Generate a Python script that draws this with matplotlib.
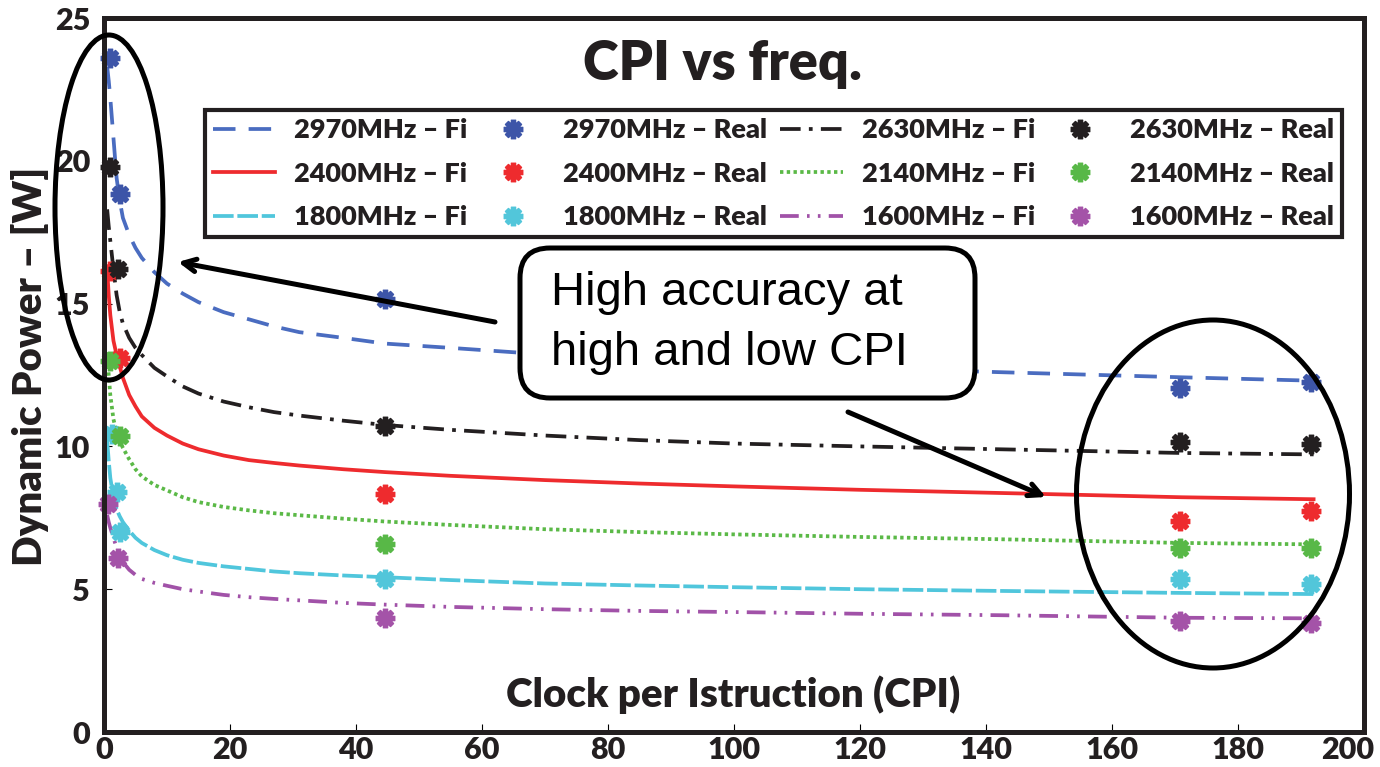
import matplotlib.pyplot as plt
from matplotlib.patches import Ellipse, FancyBboxPatch
from matplotlib.transforms import ScaledTranslation

plt.rcParams['font.family'] = ['Lato', 'DejaVu Sans']
plt.rcParams['font.weight'] = 'bold'

# fitted curves
fit_x = [0.5, 0.75, 1, 1.5, 2, 2.5, 3, 4, 5, 6, 8, 10, 12.5, 15, 19, 23, 27, 31, 38, 44.6,
         55, 70, 85, 100, 120, 142, 171, 192]
fit_2970 = [23.3, 22.8, 22.2, 20.8, 19.4, 18.6, 18.0, 17.4, 16.95, 16.6, 16.1, 15.7, 15.35, 15.05,
            14.7, 14.45, 14.2, 14.0, 13.8, 13.6, 13.45, 13.22, 13.05, 12.9, 12.75, 12.6, 12.42, 12.3]
fit_2630 = [18.3, 17.7, 17.2, 16.2, 15.3, 14.7, 14.3, 13.8, 13.45, 13.2, 12.75, 12.45, 12.1, 11.85,
            11.57, 11.37, 11.2, 11.08, 10.9, 10.75, 10.58, 10.38, 10.22, 10.1, 10.0, 9.9, 9.77, 9.72]
fit_2400 = [16.2, 15.3, 14.6, 13.7, 13.2, 12.8, 12.4, 11.8, 11.4, 11.05, 10.65, 10.38, 10.1, 9.9,
            9.68, 9.52, 9.42, 9.33, 9.2, 9.1, 8.97, 8.82, 8.7, 8.6, 8.48, 8.37, 8.22, 8.15]
fit_2140 = [13.3, 12.5, 11.8, 10.95, 10.5, 10.2, 9.95, 9.55, 9.2, 8.95, 8.65, 8.46, 8.22, 8.05,
            7.88, 7.76, 7.66, 7.59, 7.47, 7.37, 7.25, 7.1, 7.0, 6.92, 6.83, 6.75, 6.62, 6.57]
fit_1800 = [10.2, 9.5, 8.9, 8.2, 7.8, 7.55, 7.35, 7.05, 6.8, 6.62, 6.37, 6.19, 6.03, 5.92,
            5.8, 5.71, 5.62, 5.56, 5.48, 5.42, 5.32, 5.2, 5.13, 5.07, 5.0, 4.94, 4.87, 4.83]
fit_1600 = [7.6, 7.35, 7.15, 6.8, 6.45, 6.15, 5.95, 5.68, 5.5, 5.36, 5.22, 5.12, 5.0, 4.92,
            4.8, 4.72, 4.66, 4.61, 4.52, 4.46, 4.38, 4.3, 4.24, 4.2, 4.14, 4.09, 4.0, 3.98]

# measured points
real_x_2970 = [1.0, 2.5, 44.6, 170.8, 191.6]
real_2970 = [23.6, 18.85, 15.15, 12.05, 12.25]
real_x_2630 = [0.9, 2.3, 44.6, 170.8, 191.6]
real_2630 = [19.8, 16.2, 10.73, 10.17, 10.1]
real_x_2400 = [0.9, 2.5, 44.6, 170.8, 191.6]
real_2400 = [16.15, 13.1, 8.32, 7.38, 7.73]
real_x_2140 = [0.9, 2.5, 44.6, 170.8, 191.6]
real_2140 = [13.0, 10.35, 6.6, 6.43, 6.43]
real_x_1800 = [1.2, 2.0, 2.5, 44.6, 170.8, 191.6]
real_1800 = [10.45, 8.4, 7.0, 5.35, 5.35, 5.17]
real_x_1600 = [0.7, 2.2, 44.6, 170.8, 191.6]
real_1600 = [8.0, 6.1, 3.99, 3.88, 3.81]

fig = plt.figure(figsize=(13.8, 7.67), dpi=100)
ax = fig.add_axes([104/1380, 1-732/767, 1260/1380, 714/767])

lw = 2.7
l2970, = ax.plot(fit_x, fit_2970, color='#4a6cc0', lw=lw, dashes=(6, 3.5), label='2970MHz – Fi')
l2400, = ax.plot(fit_x, fit_2400, color='#ee2b2e', lw=lw, label='2400MHz – Fi')
l1800, = ax.plot(fit_x, fit_1800, color='#50c6dc', lw=lw, dashes=(5.5, 1), label='1800MHz – Fi')
l2630, = ax.plot(fit_x, fit_2630, color='#231f20', lw=lw, dashes=(5.5, 2.2, 1, 2.2), label='2630MHz – Fi')
l2140, = ax.plot(fit_x, fit_2140, color='#5bb947', lw=lw, dashes=(0.9, 0.9), dash_capstyle='butt',
                 label='2140MHz – Fi')
l1600, = ax.plot(fit_x, fit_1600, color='#a152a8', lw=lw, dashes=(5, 2.2, 0.7, 2.2, 0.7, 2.2),
                 label='1600MHz – Fi')

mk = dict(marker=(8, 2, 0), ms=14, mew=3.8, ls='none')
p2970, = ax.plot(real_x_2970, real_2970, color='#3d55a8', label='2970MHz – Real', **mk)
p2400, = ax.plot(real_x_2400, real_2400, color='#ee2b2e', label='2400MHz – Real', **mk)
p1800, = ax.plot(real_x_1800, real_1800, color='#52c6da', label='1800MHz – Real', **mk)
p2630, = ax.plot(real_x_2630, real_2630, color='#231f20', label='2630MHz – Real', **mk)
p2140, = ax.plot(real_x_2140, real_2140, color='#58b847', label='2140MHz – Real', **mk)
p1600, = ax.plot(real_x_1600, real_1600, color='#a453a8', label='1600MHz – Real', **mk)
for p in [p2970, p2400, p1800, p2630, p2140, p1600]:
    p.set_clip_on(False)

ax.set_xlim(0, 200)
ax.set_ylim(0, 25)
ax.set_xticks(range(0, 201, 20))
ax.set_yticks(range(0, 26, 5))
ax.tick_params(direction='in', length=6, width=0.8, labelsize=22)
ax.tick_params(axis='x', pad=3)
ax.tick_params(axis='y', pad=10)
for lab in ax.get_xticklabels() + ax.get_yticklabels():
    lab.set_fontweight('heavy')
    lab.set_color('#231f20')
last = ax.get_xticklabels()[-1]
last.set_horizontalalignment('right')
last.set_transform(last.get_transform() + ScaledTranslation(0.1, 0, fig.dpi_scale_trans))

for s in ax.spines.values():
    s.set_linewidth(3.6)
    s.set_color('#231f20')

ax.text(0.491, 0.935, 'CPI vs freq.', transform=ax.transAxes, ha='center', va='center',
        fontsize=39, fontweight='heavy', color='#231f20')
ax.text(0.4995, 0.052, 'Clock per Istruction (CPI)', transform=ax.transAxes, ha='center',
        va='center', fontsize=29, fontweight='heavy', color='#231f20')
fig.text(30/1380, 1-366/767, 'Dynamic Power – [W]', rotation=90, ha='center', va='center',
         fontsize=29, fontweight='heavy', color='#231f20')

handles = [l2970, l2400, l1800, p2970, p2400, p1800, l2630, l2140, l1600, p2630, p2140, p1600]
leg = ax.legend(handles=handles, ncol=4, loc='upper left',
                bbox_to_anchor=((205-104)/1260, (732-110)/714 - 0.01, (1342-205)/1260, 0.01),
                mode='expand', borderaxespad=0, fancybox=False, framealpha=1,
                edgecolor='#231f20', prop={'size': 19.5, 'weight': 'heavy'},
                handlelength=2.3, handletextpad=0.7, labelspacing=0.72, borderpad=0.3,
                columnspacing=0.6)
leg.get_frame().set_linewidth(3)
for t in leg.get_texts():
    t.set_color('#231f20')

# annotation box, arrows and ellipses (drawn in inches on the figure)
tr = fig.dpi_scale_trans
box = FancyBboxPatch((5.20, 3.69), 4.55, 1.50, boxstyle='round,pad=0,rounding_size=0.3',
                     transform=tr, fc='white', ec='black', lw=3.6, zorder=5)
fig.add_artist(box)
fig.text(5.51, 4.74, 'High accuracy at', transform=tr, va='center', ha='left',
         fontsize=34, family='Liberation Sans', fontweight='normal', zorder=6)
fig.text(5.51, 4.14, 'high and low CPI', transform=tr, va='center', ha='left',
         fontsize=34, family='Liberation Sans', fontweight='normal', zorder=6)

arrow = dict(arrowstyle='->,head_length=0.9,head_width=0.45', lw=3.6, color='black',
             shrinkA=0, shrinkB=0)
fig.add_artist(plt.Annotation('', xy=(178, 767-262), xytext=(495, 767-322),
                              xycoords='figure pixels', arrowprops=arrow))
fig.add_artist(plt.Annotation('', xy=(1046, 767-497), xytext=(848, 767-412),
                              xycoords='figure pixels', arrowprops=arrow))

fig.add_artist(Ellipse((1.09, 5.595), 1.08, 3.45, transform=tr, fill=False, ec='black', lw=3.6))
fig.add_artist(Ellipse((12.13, 2.73), 2.73, 3.48, transform=tr, fill=False, ec='black', lw=3.6))

fig.savefig('out.png', dpi=100)
